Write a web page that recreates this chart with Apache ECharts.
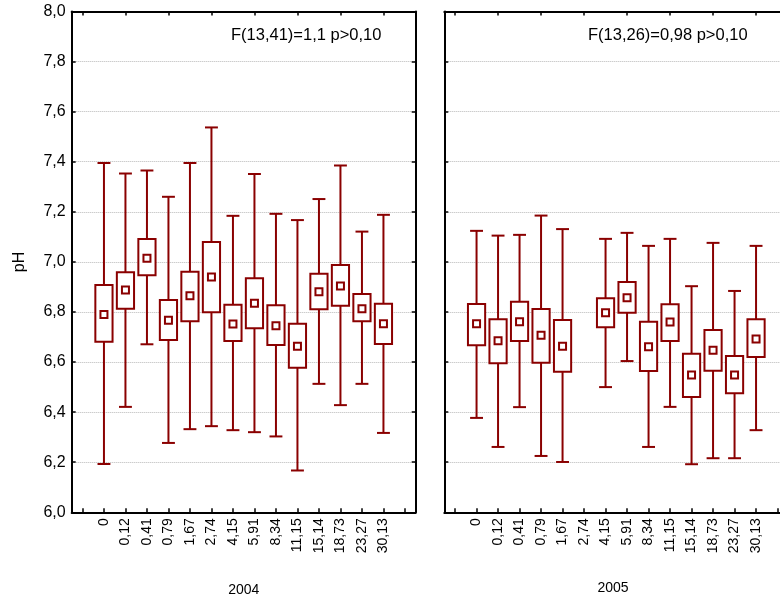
<!DOCTYPE html>
<html>
<head>
<meta charset="utf-8">
<script src="https://cdn.jsdelivr.net/npm/echarts@6/dist/echarts.min.js"></script>
<style>
html,body{margin:0;padding:0;background:#fff;}
#chart{width:780px;height:599px;}
</style>
</head>
<body>
<div id="chart"></div>
<script>
// ---- data ----
var categories = ['0','0,12','0,41','0,79','1,67','2,74','4,15','5,91','8,34','11,15','15,14','18,73','23,27','30,13'];
var yearLabels = ['2004','2005'];
var statText = ['F(13,41)=1,1 p>0,10', 'F(13,26)=0,98 p>0,10'];
var yTicks = [6.0, 6.2, 6.4, 6.6, 6.8, 7.0, 7.2, 7.4, 7.6, 7.8, 8.0];

var mean2004  = [6.790, 6.888, 7.015, 6.767, 6.865, 6.940, 6.752, 6.835, 6.745, 6.663, 6.881, 6.904, 6.813, 6.753];
var boxHi2004 = [6.908, 6.959, 7.091, 6.848, 6.961, 7.079, 6.829, 6.935, 6.827, 6.753, 6.953, 6.988, 6.872, 6.833];
var boxLo2004 = [6.681, 6.813, 6.947, 6.688, 6.763, 6.799, 6.684, 6.735, 6.668, 6.577, 6.811, 6.825, 6.763, 6.672];
var whHi2004  = [7.395, 7.353, 7.365, 7.260, 7.395, 7.537, 7.184, 7.351, 7.192, 7.167, 7.251, 7.385, 7.121, 7.188];
var whLo2004  = [6.193, 6.421, 6.671, 6.277, 6.332, 6.344, 6.328, 6.320, 6.303, 6.167, 6.513, 6.428, 6.513, 6.317];

var mean2005  = [6.753, 6.685, 6.761, 6.707, 6.663, null, 6.797, 6.857, 6.661, 6.760, 6.548, 6.647, 6.548, 6.692];
var boxHi2005 = [6.832, 6.771, 6.841, 6.812, 6.768, null, 6.855, 6.920, 6.761, 6.831, 6.633, 6.728, 6.624, 6.771];
var boxLo2005 = [6.667, 6.595, 6.684, 6.597, 6.561, null, 6.739, 6.797, 6.564, 6.684, 6.460, 6.565, 6.475, 6.620];
var whHi2005  = [7.124, 7.105, 7.108, 7.185, 7.131, null, 7.092, 7.116, 7.064, 7.092, 6.903, 7.076, 6.884, 7.064];
var whLo2005  = [6.377, 6.261, 6.420, 6.225, 6.201, null, 6.500, 6.604, 6.261, 6.421, 6.192, 6.216, 6.216, 6.328];

// ---- build ----
var RED = '#8a0000';
var axisCats = [''].concat(categories).concat(['']);
var fmtY = function(v){ return v.toFixed(1).replace('.', ','); };

function buildData(mean, lo, hi, wlo, whi){
  var out = [];
  for (var i = 0; i < categories.length; i++) {
    if (mean[i] == null) continue;
    out.push([i + 1, wlo[i], lo[i], mean[i], hi[i], whi[i]]);
  }
  return out;
}

function renderItem(params, api){
  var x = api.value(0);
  var pMin = api.coord([x, api.value(1)]);
  var pLo  = api.coord([x, api.value(2)]);
  var pMean= api.coord([x, api.value(3)]);
  var pHi  = api.coord([x, api.value(4)]);
  var pMax = api.coord([x, api.value(5)]);
  var band = api.size([1, 0])[0];
  var bw = band * 0.8, cw = band * 0.6, ms = 7;
  var cx = pMean[0];
  var ls = {stroke: RED, lineWidth: 2};
  return {
    type: 'group',
    children: [
      {type:'line', shape:{x1:cx, y1:pMax[1], x2:cx, y2:pHi[1]}, style:ls},
      {type:'line', shape:{x1:cx, y1:pLo[1], x2:cx, y2:pMin[1]}, style:ls},
      {type:'line', shape:{x1:cx-cw/2, y1:pMax[1], x2:cx+cw/2, y2:pMax[1]}, style:ls},
      {type:'line', shape:{x1:cx-cw/2, y1:pMin[1], x2:cx+cw/2, y2:pMin[1]}, style:ls},
      {type:'rect', shape:{x:cx-bw/2, y:pHi[1], width:bw, height:pLo[1]-pHi[1]}, style:{stroke:RED, lineWidth:2, fill:'#fff'}},
      {type:'rect', shape:{x:cx-ms/2, y:pMean[1]-ms/2, width:ms, height:ms}, style:{stroke:RED, lineWidth:2, fill:'#fff'}}
    ]
  };
}

var FONT = 'Liberation Sans, Arial, sans-serif';
var gridTop = 11.5, gridH = 500.8, gridW = 344;
var grids = [
  {left: 71.7, top: gridTop, width: gridW, height: gridH, containLabel: false, outerBoundsMode: 'none'},
  {left: 444.3, top: gridTop, width: gridW, height: gridH, containLabel: false, outerBoundsMode: 'none'}
];

var xAxes = [], yAxes = [], series = [];
for (var g = 0; g < 2; g++) {
  var line = {show:true, lineStyle:{color:'#000', width:2}};
  xAxes.push({
    gridIndex: g, type: 'category', data: axisCats, position: 'bottom', boundaryGap: true,
    axisLine: line,
    axisTick: {show:true, inside:true, alignWithLabel:true, length:4, lineStyle:{color:'#000', width:1.5}},
    axisLabel: {rotate: 90, fontSize: 14, color:'#000', margin: 6, fontFamily: FONT, interval: 0},
    splitLine: {show:false},
    name: g === 0 ? yearLabels[g] : '', nameLocation: 'middle', nameGap: 71,
    nameTextStyle: {fontSize: 14, color:'#000', fontFamily: FONT}
  });
  xAxes.push({
    gridIndex: g, type: 'category', data: axisCats, position: 'top', boundaryGap: true,
    axisLine: line,
    axisTick: {show:true, inside:true, alignWithLabel:true, length:4, lineStyle:{color:'#000', width:1.5}},
    axisLabel: {show:false}, splitLine:{show:false}
  });
  yAxes.push({
    gridIndex: g, type: 'value', min: yTicks[0], max: yTicks[yTicks.length-1], interval: 0.2, position: 'left',
    axisLine: line,
    axisTick: {show:true, inside:true, length:4, lineStyle:{color:'#000', width:1.5}},
    axisLabel: {show: g === 0, fontSize: 16, color:'#000', margin: 6, fontFamily: FONT, formatter: fmtY},
    splitLine: {show:true, lineStyle:{color:'#b8b8b8', type:'dotted', width:1}},
    name: g === 0 ? 'pH' : '', nameLocation: 'middle', nameGap: 44, nameRotate: 90,
    nameTextStyle: {fontSize: 16, color:'#000', fontFamily: FONT}
  });
  yAxes.push({
    gridIndex: g, type: 'value', min: yTicks[0], max: yTicks[yTicks.length-1], interval: 0.2, position: 'right',
    axisLine: line,
    axisTick: {show:true, inside:true, length:4, lineStyle:{color:'#000', width:1.5}},
    axisLabel: {show:false}, splitLine:{show:false}
  });
}

series.push({
  type:'custom', xAxisIndex:0, yAxisIndex:0, renderItem: renderItem,
  data: buildData(mean2004, boxLo2004, boxHi2004, whLo2004, whHi2004), z: 5, silent: true
});
series.push({
  type:'custom', xAxisIndex:2, yAxisIndex:2, renderItem: renderItem,
  data: buildData(mean2005, boxLo2005, boxHi2005, whLo2005, whHi2005), z: 5, silent: true
});

var chart = echarts.init(document.getElementById('chart'), null, {renderer:'canvas'});
chart.setOption({
  animation: false,
  backgroundColor: '#fff',
  grid: grids,
  xAxis: xAxes,
  yAxis: yAxes,
  title: [
    {text: statText[0], left: 231, top: 27, textStyle:{fontSize:16.5, fontWeight:'normal', color:'#000', fontFamily: FONT}, padding:0},
    {text: statText[1], left: 588, top: 27, textStyle:{fontSize:16.5, fontWeight:'normal', color:'#000', fontFamily: FONT}, padding:0},
    {text: yearLabels[1], left: 613, top: 588, textAlign: 'center', textVerticalAlign: 'middle', textStyle:{fontSize:14, fontWeight:'normal', color:'#000', fontFamily: FONT}, padding:0}
  ],
  series: series
});
</script>
</body>
</html>
